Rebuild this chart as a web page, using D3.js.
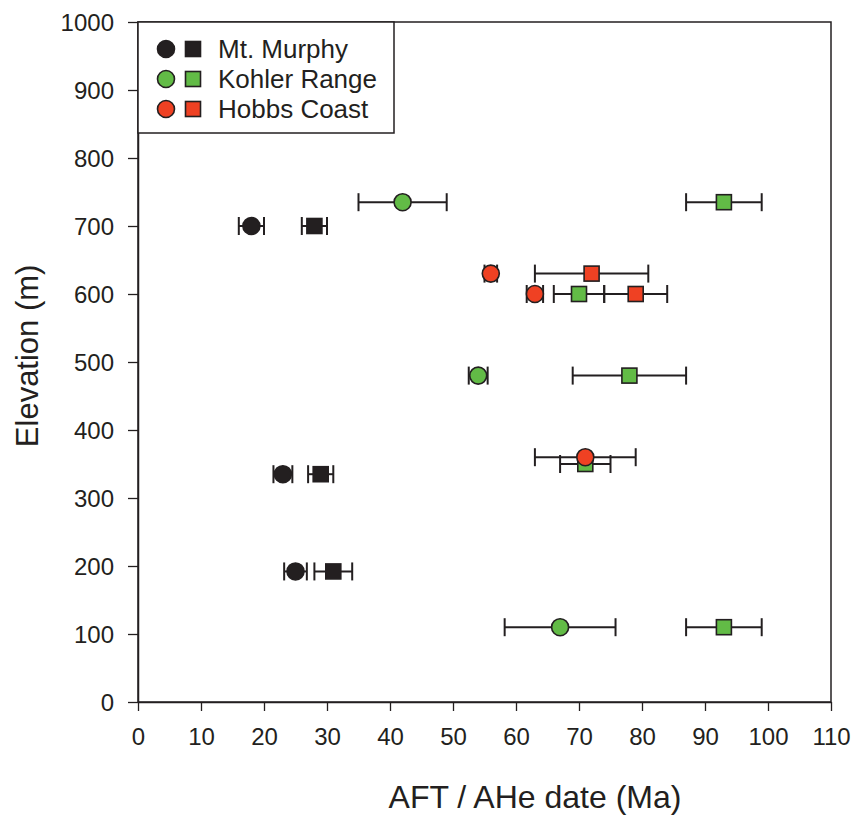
<!DOCTYPE html>
<html>
<head>
<meta charset="utf-8">
<script src="https://cdn.jsdelivr.net/npm/d3@7"></script>
<style>
	body { margin: 0; background: #fff; }
	svg { display: block; font-family: 'Liberation Sans', Arial, sans-serif; }
</style>
</head>
<body>
<svg class="display"></svg>
<script>
// sites shown in the legend
const sites = ['Mt. Murphy', 'Kohler Range', 'Hobbs Coast'];

// Mt. Murphy (circles / squares), ages in Ma, elevation in m
const murphyCircleAge = [18, 23, 25];
const murphyCircleErr = [2, 1.5, 1.8];
const murphyCircleElev = [700, 335, 192];
const murphySquareAge = [28, 29, 31];
const murphySquareErr = [2, 2, 3];
const murphySquareElev = [700, 335, 192];

// Kohler Range
const kohlerCircleAge = [42, 54, 67];
const kohlerCircleErr = [7, 1.5, 8.8];
const kohlerCircleElev = [735, 480, 110];
const kohlerSquareAge = [93, 78, 70, 71, 93];
const kohlerSquareErr = [6, 9, 4, 4, 6];
const kohlerSquareElev = [735, 480, 600, 350, 110];

// Hobbs Coast
const hobbsCircleAge = [56, 63, 71];
const hobbsCircleErr = [1, 1.3, 8];
const hobbsCircleElev = [630, 600, 360];
const hobbsSquareAge = [72, 79];
const hobbsSquareErr = [9, 5];
const hobbsSquareElev = [630, 600];

// tick values
const xTicks = [0, 10, 20, 30, 40, 50, 60, 70, 80, 90, 100, 110];
const yTicks = [0, 100, 200, 300, 400, 500, 600, 700, 800, 900, 1000];

const colors = ['#231f20', '#62bb46', '#ef4123'];
const ink = '#231f20';

//define area of graph
const totalWidth = 855,
	totalHeight = 821,
	margin = { top: 22, right: 24, bottom: 119, left: 138 },
	width = totalWidth - margin.left - margin.right,
	height = totalHeight - margin.top - margin.bottom;

const xScale = d3.scaleLinear().domain([0, 110]).range([0, width]);
const yScale = d3.scaleLinear().domain([0, 1000]).range([height, 0]);

const svg = d3.select('.display').attr('width', totalWidth).attr('height', totalHeight);
const display = svg.append('g').attr('transform', 'translate(' + margin.left + ',' + margin.top + ')');

// frame
display.append('rect')
	.attr('width', width)
	.attr('height', height)
	.attr('fill', 'none')
	.attr('stroke', ink)
	.attr('stroke-width', 1.5);

// axes
const xAxis = d3.axisBottom(xScale).tickValues(xTicks).tickFormat(d3.format('d'))
	.tickSize(9).tickPadding(17).tickSizeOuter(0);
const yAxis = d3.axisLeft(yScale).tickValues(yTicks).tickFormat(d3.format('d'))
	.tickSize(10).tickPadding(14).tickSizeOuter(0);

const gx = display.append('g').attr('transform', 'translate(0,' + height + ')').call(xAxis);
const gy = display.append('g').call(yAxis);
[gx, gy].forEach((g) => {
	g.select('.domain').attr('stroke', ink).attr('stroke-width', 1.5);
	g.selectAll('.tick line').attr('stroke', ink).attr('stroke-width', 1.3);
	g.selectAll('.tick text')
		.attr('fill', ink)
		.style('font-size', '24px')
		.style('font-family', "'Liberation Sans', Arial, sans-serif");
});
gy.selectAll('.tick text').attr('dy', '0.36em');

// axis titles
display.append('text')
	.attr('x', 397)
	.attr('y', height + 106)
	.attr('text-anchor', 'middle')
	.attr('fill', ink)
	.style('font-size', '32px')
	.text('AFT / AHe date (Ma)');

display.append('text')
	.attr('transform', 'rotate(-90)')
	.attr('x', -(yScale(509)))
	.attr('y', -100)
	.attr('text-anchor', 'middle')
	.attr('fill', ink)
	.style('font-size', '31px')
	.text('Elevation (m)');

// build point records from the arrays
function pts(ages, errs, elevs, site, shape) {
	return ages.map((a, i) => ({ age: a, err: errs[i], elev: elevs[i], site: site, shape: shape }));
}
const groups = [
	pts(murphyCircleAge, murphyCircleErr, murphyCircleElev, 0, 'circle').concat(
		pts(murphySquareAge, murphySquareErr, murphySquareElev, 0, 'square')),
	pts(kohlerCircleAge, kohlerCircleErr, kohlerCircleElev, 1, 'circle').concat(
		pts(kohlerSquareAge, kohlerSquareErr, kohlerSquareElev, 1, 'square')),
	pts(hobbsCircleAge, hobbsCircleErr, hobbsCircleElev, 2, 'circle').concat(
		pts(hobbsSquareAge, hobbsSquareErr, hobbsSquareElev, 2, 'square'))
];

const capH = 9;
const r = 8.5, sq = 15;

function drawMarker(sel, d, cx, cy) {
	if (d.shape === 'circle') {
		sel.append('circle')
			.attr('cx', cx).attr('cy', cy).attr('r', r)
			.attr('fill', colors[d.site])
			.attr('stroke', ink).attr('stroke-width', 1.6);
	} else {
		sel.append('rect')
			.attr('x', cx - sq / 2).attr('y', cy - sq / 2)
			.attr('width', sq).attr('height', sq)
			.attr('fill', colors[d.site])
			.attr('stroke', ink).attr('stroke-width', 1.6);
	}
}

groups.forEach((data) => {
	const g = display.append('g');
	data.forEach((d) => {
		const cy = yScale(d.elev);
		const x0 = xScale(d.age - d.err), x1 = xScale(d.age + d.err);
		const eb = g.append('g').attr('stroke', ink).attr('stroke-width', 2);
		eb.append('line').attr('x1', x0).attr('x2', x1).attr('y1', cy).attr('y2', cy);
		eb.append('line').attr('x1', x0).attr('x2', x0).attr('y1', cy - capH).attr('y2', cy + capH);
		eb.append('line').attr('x1', x1).attr('x2', x1).attr('y1', cy - capH).attr('y2', cy + capH);
	});
	data.forEach((d) => drawMarker(g, d, xScale(d.age), yScale(d.elev)));
});

// legend
const legend = display.append('g');
legend.append('rect')
	.attr('x', 0).attr('y', 0)
	.attr('width', 256).attr('height', 111)
	.attr('fill', '#fff')
	.attr('stroke', ink).attr('stroke-width', 1.5);

sites.forEach((s, i) => {
	const ly = 27 + i * 30;
	drawMarker(legend, { shape: 'circle', site: i }, 28, ly);
	drawMarker(legend, { shape: 'square', site: i }, 55, ly);
	legend.append('text')
		.attr('x', 80)
		.attr('y', ly)
		.attr('dy', '0.36em')
		.attr('fill', ink)
		.style('font-size', '26px')
		.text(s);
});
</script>
</body>
</html>
